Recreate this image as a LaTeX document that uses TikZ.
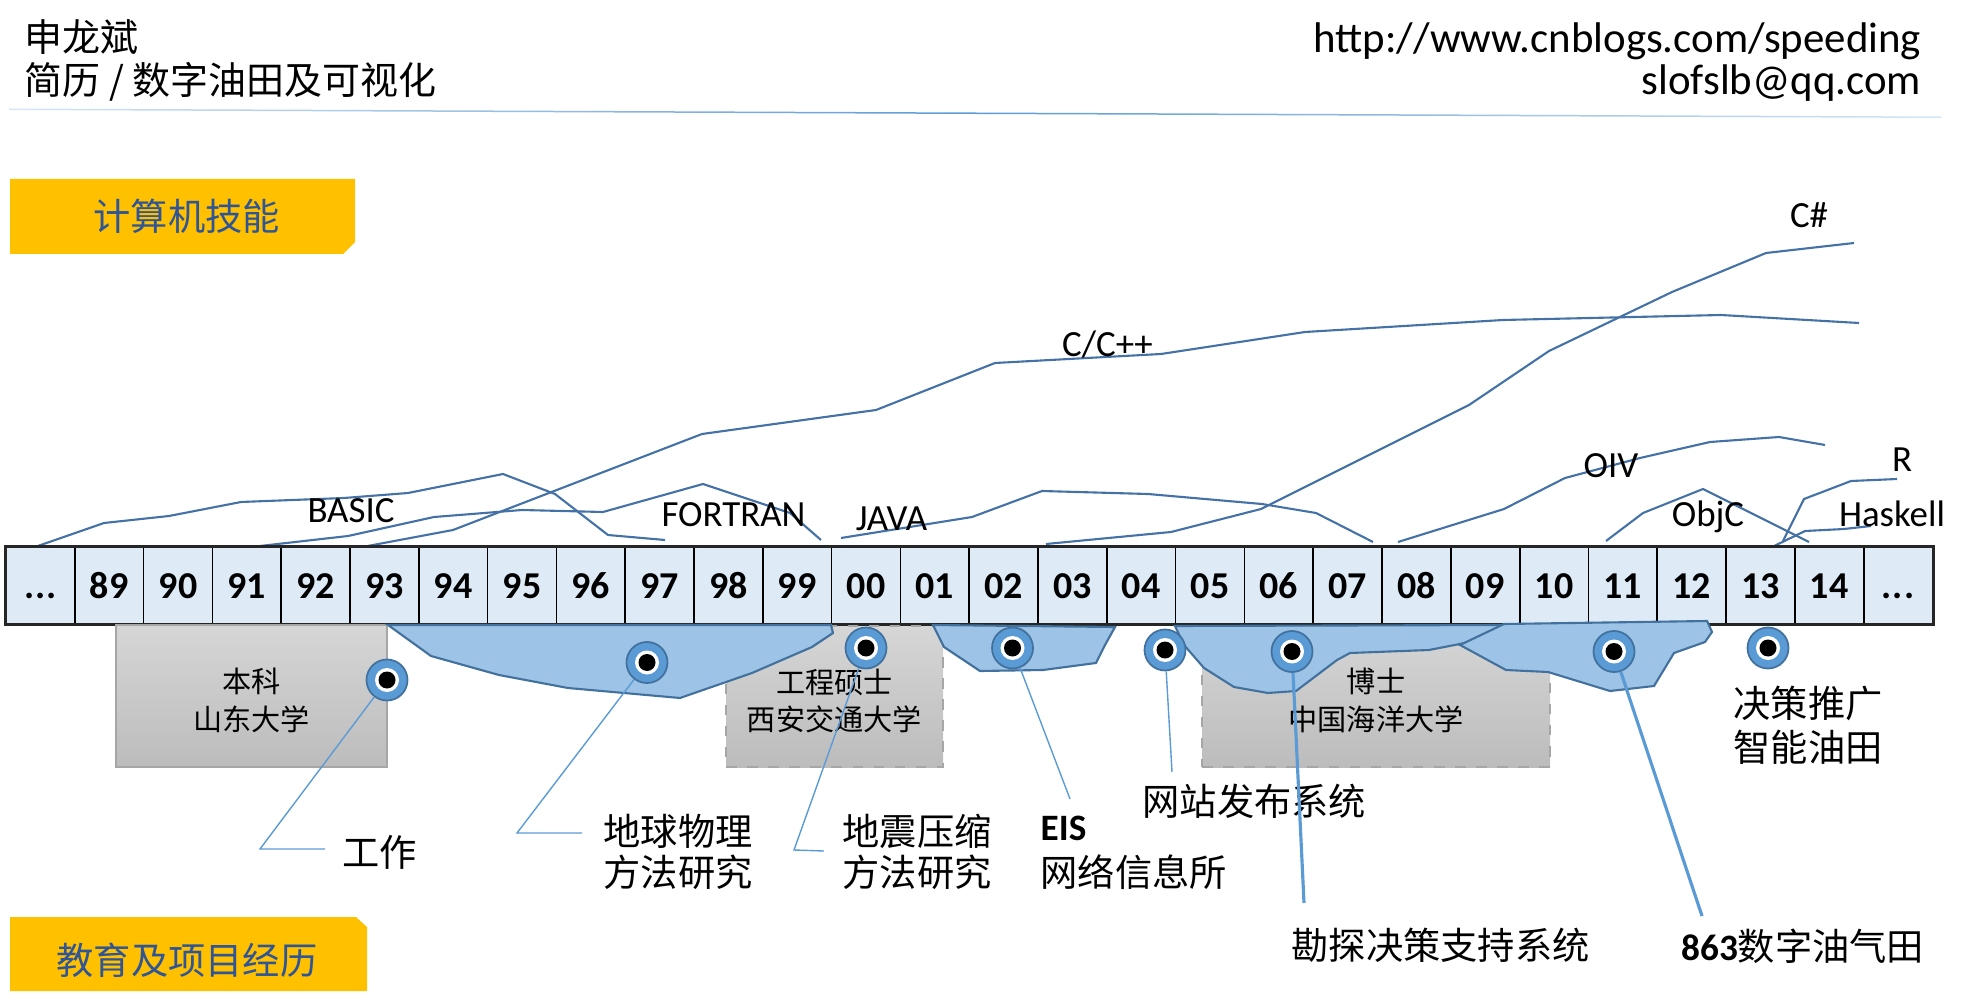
\documentclass[tikz,border=0pt]{standalone}
\usepackage{fontspec}
\setmainfont{Noto Sans CJK SC}
\newfontfamily\calfont{Carlito}
\usetikzlibrary{positioning}

\definecolor{bannerYellow}{RGB}{255,192,0}
\definecolor{bannerText}{RGB}{47,85,151}
\definecolor{barFill}{RGB}{222,235,247}
\definecolor{skillLine}{RGB}{68,114,166}
\definecolor{blobFill}{RGB}{157,195,230}
\definecolor{blobEdge}{RGB}{65,113,156}
\definecolor{dotBlue}{RGB}{91,155,213}
\definecolor{schoolTop}{RGB}{214,214,214}
\definecolor{schoolBot}{RGB}{188,188,188}
\definecolor{schoolEdge}{RGB}{166,166,166}

\newcommand\yrdots{.\kern0.3pt.\kern0.3pt.}

\tikzset{
  hdr/.style={inner sep=0pt, font=\fontsize{10.8}{13}\selectfont},
  urltext/.style={inner sep=0pt, font=\calfont\fontsize{12.2}{14}\selectfont},
  bannertext/.style={inner sep=0pt, text=bannerText, font=\fontsize{10.6}{12}\selectfont},
  yrcell/.style={draw=black, fill=barFill, line width=0.5pt, inner sep=0pt,
    minimum width=6.88mm, minimum height=7.7mm, text height=2.5mm, text depth=0pt,
    font=\calfont\bfseries\fontsize{10.8}{12}\selectfont},
  skill/.style={draw=skillLine, line width=0.6pt},
  lang/.style={anchor=base, inner sep=0pt, font=\calfont\fontsize{10.5}{12}\selectfont},
  school/.style={draw=schoolEdge, top color=schoolTop, bottom color=schoolBot, inner sep=0pt},
  schooltext/.style={inner sep=0pt, align=center, font=\fontsize{8.3}{10.8}\selectfont},
  blob/.style={draw=blobEdge, fill=blobFill, line width=0.6pt},
  milestone/.style={circle, draw=blobEdge, fill=dotBlue, line width=0.5pt,
    minimum size=4.1mm, inner sep=0pt,
    path picture={\fill[white] (path picture bounding box.center) circle (1.2mm);
      \fill[black] (path picture bounding box.center) circle (0.85mm);}},
  leadline/.style={draw=dotBlue, line width=0.4pt},
  thicklead/.style={draw=dotBlue, line width=0.9pt},
  proj/.style={anchor=west, inner sep=0pt, align=left, font=\fontsize{10.6}{11.8}\selectfont}
}

\begin{document}
\begin{tikzpicture}[x=0.1mm, y=-0.1mm]
\useasboundingbox (0,0) rectangle (1970,1004);

% header
\node[hdr, anchor=west] (name) at (24,37) {申龙斌};
\node[hdr, anchor=west] (title) at (24,82) {简历 / 数字油田及可视化};
\node[urltext, anchor=base east] (url) at (1922,53) {http://www.cnblogs.com/speeding};
\node[urltext, anchor=base east] (mail) at (1922,95) {slofslb@qq.com};
\shade[left color=dotBlue!25, right color=dotBlue!25, middle color=dotBlue]
  (9,108.5) -- (1941,116.5) -- (1941,118) -- (9,110) -- cycle;

% section banners
\fill[bannerYellow] (10,179) -- (355,179) -- (355,242) -- (343,254) -- (10,254) -- cycle;
\node[bannertext] (skills) at (186.7,216) {计算机技能};
\fill[bannerYellow] (10,917) -- (356,917) -- (367,927) -- (367,991) -- (10,991) -- cycle;
\node[bannertext] (career) at (187,960) {教育及项目经历};

% skill curves
\draw[skill] (35,547) -- (104,523) -- (169,516) -- (241,502) -- (344,498) -- (408,493)
  -- (503,474) -- (555,494) -- (608,535) -- (665,540);
\draw[skill] (260,546) -- (348,536) -- (434,517) -- (522,510) -- (603,512) -- (703,484)
  -- (790,513) -- (821,540);
\draw[skill] (357,548) -- (453,530) -- (702,434) -- (876,410) -- (995,363) -- (1161,354)
  -- (1305,332) -- (1503,320) -- (1721,315) -- (1859,323);
\draw[skill] (841,538) -- (972,517) -- (1042,491) -- (1148,494) -- (1262,504) -- (1316,513)
  -- (1373,542);
\draw[skill] (1046,544) -- (1171,532) -- (1261,509) -- (1469,405) -- (1549,351) -- (1672,292)
  -- (1766,253) -- (1854,243);
\draw[skill] (1398,542) -- (1504,509) -- (1565,478) -- (1640,458) -- (1710,442) -- (1779,437)
  -- (1825,445);
\draw[skill] (1606,541) -- (1643,513) -- (1703,489) -- (1809,542);
\draw[skill] (1783,541) -- (1804,499) -- (1851,481) -- (1897,479);
\draw[skill] (1768,549) -- (1805,531) -- (1844,529) -- (1871,526);

\node[lang] (basic) at (351,522.7) {BASIC};
\node[lang] (fortran) at (733.5,526) {FORTRAN};
\node[lang] (java) at (891.5,530) {JAVA};
\node[lang] (cpp) at (1107.5,356.7) {C/C++};
\node[lang] (csharp) at (1809,228) {C\#};
\node[lang] (oiv) at (1611,478) {OIV};
\node[lang] (objc) at (1708,526.7) {ObjC};
\node[lang] (rlang) at (1902,471.7) {R};
\node[lang] (haskell) at (1892,526.7) {Haskell};

% years
\foreach \yr [count=\i from 0] in {\yrdots,89,90,91,92,93,94,95,96,97,98,99,00,01,02,03,04,05,06,07,08,09,10,11,12,13,14,\yrdots}
  \node[yrcell] (c\i) at ({40.4+68.8*\i},585.5) {\yr};
\draw[line width=0.9pt, black!85] (c0.north west) rectangle (c27.south east);

% schools
\node[school, minimum width=27.1mm, minimum height=14.2mm] (sdu) at (251.5,696) {};
\node[school, dashed, minimum width=21.7mm, minimum height=14.1mm] (xjtu) at (834.5,696.5) {};
\node[school, dashed, minimum width=34.8mm, minimum height=14.1mm] (ouc) at (1376,696.5) {};
\node[schooltext] (sduText) at (251.5,700.5) {本科\\山东大学};
\node[schooltext] (xjtuText) at (834.5,701) {工程硕士\\西安交通大学};
\node[schooltext] (oucText) at (1376,700.5) {博士\\中国海洋大学};

% projects
\draw[blob] (388,625) -- (431,656) -- (499,675) -- (568,688) -- (680,698) -- (752,673)
  -- (812,647) -- (833,633) -- (831,625) -- cycle;
\draw[blob] (933,625) -- (944,647) -- (980,671) -- (1043,670) -- (1096,663) -- (1105,645)
  -- (1115,627) -- cycle;
\draw[blob] (1175,626) -- (1184,645) -- (1204,668) -- (1234,687) -- (1268,693) -- (1296,691)
  -- (1337,660) -- (1350,653) -- (1429,650) -- (1470,642) -- (1494,631) -- (1504,625) -- cycle;
\draw[blob] (1504,624) -- (1460,645) -- (1506,670) -- (1548,672) -- (1610,691) -- (1654,686)
  -- (1674,653) -- (1705,642) -- (1712,632) -- (1707,621) -- cycle;

\node[milestone] (m1) at (387,680) {};
\node[milestone] (m2) at (647,662.5) {};
\node[milestone] (m3) at (866,648) {};
\node[milestone] (m4) at (1012.5,648) {};
\node[milestone] (m5) at (1165,650) {};
\node[milestone] (m6) at (1292,651.5) {};
\node[milestone] (m7) at (1614,651.5) {};
\node[milestone] (m8) at (1768,648) {};

\node[proj] (work) at (342,852.5) {工作};
\node[proj] (geo) at (603,852) {地球物理\\方法研究};
\node[proj] (seis) at (842,852) {地震压缩\\方法研究};
\node[proj, font=\fontsize{10.6}{13}\selectfont] (eis) at (1040,853) {{\calfont\bfseries EIS}\\网络信息所};
\node[proj] (webpub) at (1142,801) {网站发布系统};
\node[proj] (dss) at (1291,945) {勘探决策支持系统};
\node[proj] (oil) at (1680.5,946) {{\calfont\bfseries 863}数字油气田};
\node[proj, font=\fontsize{10.6}{12.4}\selectfont] (smart) at (1733,725.5) {决策推广\\智能油田};

\coordinate (b1) at (260,849);
\coordinate (t1) at (325,849);
\coordinate (b2) at (517,833);
\coordinate (t2) at (582,833);
\coordinate (b3) at (794,850);
\coordinate (t3) at (824,851);
\coordinate (t4) at (1070,799);
\coordinate (t5) at (1172,772);
\coordinate (t6) at (1304,903);
\coordinate (t7) at (1702,916);

\draw[leadline] (m1) -- (b1) -- (t1);
\draw[leadline] (m2) -- (b2) -- (t2);
\draw[leadline] (m3) -- (b3) -- (t3);
\draw[leadline] (m4) -- (t4);
\draw[leadline] (m5) -- (t5);
\draw[thicklead] (m6) -- (t6);
\draw[thicklead] (m7) -- (t7);
\end{tikzpicture}
\end{document}
